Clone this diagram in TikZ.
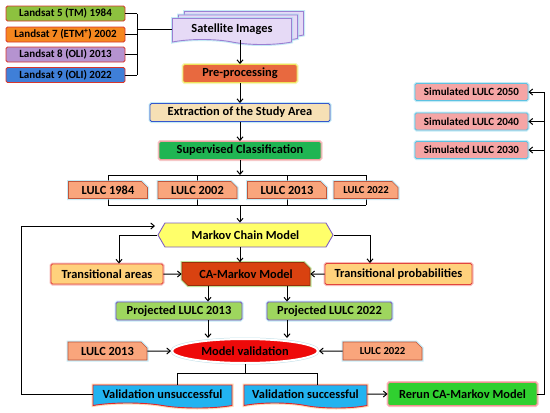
\documentclass[tikz,border=0pt]{standalone}
\usepackage{fontspec}
\setmainfont{Carlito}
\usetikzlibrary{shapes.geometric, shapes.symbols, shapes.misc, arrows.meta, positioning, calc, backgrounds}

\definecolor{lsgreen}{HTML}{8DC13F}
\definecolor{lsorange}{HTML}{F5871F}
\definecolor{lspurple}{HTML}{B593D0}
\definecolor{lsblue}{HTML}{3F7FD8}
\definecolor{lsedge}{HTML}{D8362C}
\definecolor{satfill}{HTML}{E6DAF6}
\definecolor{satedge}{HTML}{9B7FD2}
\definecolor{prefill}{HTML}{E8693F}
\definecolor{preedge}{HTML}{EDE35A}
\definecolor{extfill}{HTML}{F6E0B5}
\definecolor{extedge}{HTML}{3556CC}
\definecolor{supfill}{HTML}{20B553}
\definecolor{supedge}{HTML}{EFA2A2}
\definecolor{lulcfill}{HTML}{F9A57C}
\definecolor{lulcedge}{HTML}{C0553A}
\definecolor{glowcyan}{HTML}{9FDDF0}
\definecolor{mkvfill}{HTML}{FFFF6A}
\definecolor{mkvedge}{HTML}{7E5FC4}
\definecolor{trafill}{HTML}{FFD17C}
\definecolor{traedge}{HTML}{E2453D}
\definecolor{cafill}{HTML}{D94210}
\definecolor{caedge}{HTML}{96CF5B}
\definecolor{projfill}{HTML}{9ED65E}
\definecolor{projedge}{HTML}{7C52C2}
\definecolor{mvfill}{HTML}{EE0A0A}
\definecolor{valfill}{HTML}{22B3F0}
\definecolor{valedge}{HTML}{E3262A}
\definecolor{rerunfill}{HTML}{30D030}
\definecolor{rerunedge}{HTML}{F19090}
\definecolor{simfill}{HTML}{F5A5A5}
\definecolor{simedge}{HTML}{5DC2E2}

\begin{document}
\begin{tikzpicture}[
    x=1pt, y=-1pt,
    font=\fontsize{12.4}{14}\selectfont\bfseries,
    glow/.style={preaction={draw=#1, line width=3pt, draw opacity=0.6}},
    box/.style={
      rectangle, rounded corners=1.5pt, inner sep=0pt,
      fill=#1, line width=0.9pt, align=center
    },
    lsbox/.style={
      box=#1, draw=lsedge, minimum width=119pt, minimum height=15pt,
      font=\fontsize{11}{12}\selectfont\bfseries
    },
    docbox/.style={
      tape, tape bend top=none, tape bend bottom=out and in, tape bend height=5pt,
      inner sep=0pt, fill=#1, line width=0.9pt
    },
    lulc/.style={
      chamfered rectangle, chamfered rectangle corners=north east,
      chamfered rectangle xsep=3pt, chamfered rectangle ysep=3pt,
      inner sep=0pt, fill=lulcfill, draw=lulcedge, line width=0.6pt, glow=glowcyan,
      minimum width=79pt, minimum height=17pt
    },
    arr/.style={-{Straight Barb[length=3.5pt, width=6pt]}, line width=1pt},
    lin/.style={line width=1pt},
  ]
  \useasboundingbox (0,0) rectangle (550,413);

  %% ── Landsat inputs (left column) ──────────────────────────────────────
  \node[lsbox=lsgreen]  (ls5) at (65.5,13.5) {Landsat 5 (TM) 1984};
  \node[lsbox=lsorange] (ls7) at (65.5,34.5) {Landsat 7 (ETM\textsuperscript{+}) 2002};
  \node[lsbox=lspurple] (ls8) at (65.5,54.5) {Landsat 8 (OLI) 2013};
  \node[lsbox=lsblue]   (ls9) at (65.5,75)   {Landsat 9 (OLI) 2022};

  %% ── Spine (top → bottom) ──────────────────────────────────────────────
  %  stacked pages: two blank copies behind the front one
  \node[docbox=satfill, draw=satedge, glow=glowcyan, minimum width=119pt, minimum height=26pt]
      (satb) at (244,22) {};
  \node[docbox=satfill, draw=satedge, glow=glowcyan, minimum width=119pt, minimum height=26pt]
      (sata) at (238,25.5) {};
  \node[docbox=satfill, draw=satedge, glow=glowcyan, minimum width=119pt, minimum height=26pt]
      (sat) at (232,29) {Satellite Images};

  \node[box=prefill,  draw=preedge, glow=preedge!70, minimum width=114pt, minimum height=18pt]
      (pre) at (240,73.5)  {Pre-processing};
  \node[box=extfill,  draw=extedge, glow=glowcyan,   minimum width=180pt, minimum height=18pt]
      (ext) at (240,112.5) {Extraction of the Study Area};
  \node[box=supfill,  draw=supedge, glow=supedge,    minimum width=162pt, minimum height=18pt]
      (sup) at (240,150.5) {Supervised Classification};

  %% ── Classified maps ───────────────────────────────────────────────────
  \node[lulc] (l84) at (108,190)   {LULC 1984};
  \node[lulc] (l02) at (197.5,190) {LULC 2002};
  \node[lulc] (l13) at (287,190)   {LULC 2013};
  \node[lulc, minimum width=64pt, font=\fontsize{10.7}{12}\selectfont\bfseries]
      (l22) at (366,190) {LULC 2022};

  %% ── Modelling block ───────────────────────────────────────────────────
  \node[signal, signal to=west and east, signal pointer angle=120,
        fill=mkvfill, draw=mkvedge, line width=0.9pt, inner sep=0pt,
        minimum width=175pt, minimum height=24pt]
      (mkv) at (245.5,235) {Markov Chain Model};

  \node[box=trafill, draw=traedge, glow=traedge!60, minimum width=112pt, minimum height=20pt]
      (tra) at (107,274) {Transitional areas};
  \node[chamfered rectangle, chamfered rectangle corners={north east, south west},
        chamfered rectangle xsep=3pt, chamfered rectangle ysep=3pt,
        fill=cafill, draw=cafill!70!black, glow=caedge, line width=0.6pt, inner sep=0pt,
        minimum width=128pt, minimum height=23pt]
      (cam) at (246,274) {CA-Markov Model};
  \node[box=trafill, draw=traedge, glow=traedge!60, minimum width=147pt, minimum height=21pt]
      (trp) at (398.5,274) {Transitional probabilities};

  \node[box=projfill, draw=projedge, glow=glowcyan, minimum width=126pt, minimum height=18pt]
      (pj13) at (179,311) {Projected LULC 2013};
  \node[box=projfill, draw=projedge, glow=glowcyan, minimum width=125pt, minimum height=18pt]
      (pj22) at (329.5,311) {Projected LULC 2022};

  %% ── Validation ────────────────────────────────────────────────────────
  \node[lulc, minimum height=18pt] (lv13) at (107.5,351) {LULC 2013};
  \node[ellipse, fill=mvfill, draw=white, line width=2pt, glow=glowcyan!80!gray,
        inner sep=0pt, minimum width=146pt, minimum height=24pt]
      (mval) at (245,351) {Model validation};
  \node[lulc, minimum height=18pt, font=\fontsize{10.7}{12}\selectfont\bfseries]
      (lv22) at (382.5,351) {LULC 2022};

  \node[docbox=valfill, draw=valedge, glow=orange!50, minimum width=139pt, minimum height=23pt]
      (vuns) at (162.5,394) {Validation unsuccessful};
  \node[docbox=valfill, draw=valedge, glow=orange!50, minimum width=123pt, minimum height=23pt]
      (vsuc) at (305.5,394) {Validation successful};
  \node[box=rerunfill, draw=rerunedge, glow=rerunedge, minimum width=149pt, minimum height=23pt]
      (rerun) at (462.5,394) {Rerun CA-Markov Model};

  %% ── Future scenarios (right column) ───────────────────────────────────
  \node[box=simfill, draw=simedge, glow=glowcyan, minimum width=113pt, minimum height=17pt,
        font=\fontsize{11}{12}\selectfont\bfseries] (sim50) at (471.5,92)    {Simulated LULC 2050};
  \node[box=simfill, draw=simedge, glow=glowcyan, minimum width=113pt, minimum height=17pt,
        font=\fontsize{11}{12}\selectfont\bfseries] (sim40) at (471.5,121.5) {Simulated LULC 2040};
  \node[box=simfill, draw=simedge, glow=glowcyan, minimum width=113pt, minimum height=17pt,
        font=\fontsize{11}{12}\selectfont\bfseries] (sim30) at (471.5,150)   {Simulated LULC 2030};

  %% ── Helper coordinates for the bus lines ──────────────────────────────
  \coordinate (bkx)  at (137,0);
  \coordinate (gtop) at (240,175);
  \coordinate (gbot) at (240,205);
  \coordinate (xa)   at (208,0);
  \coordinate (xb)   at (287,0);
  \coordinate (vsplit) at (245,373);
  \coordinate (loopcorner) at (21,226);
  \coordinate (loopend)    at (155,226);
  \coordinate (rx)   at (544,0);

  %% ── Landsat bracket → satellite images ────────────────────────────────
  \foreach \s in {ls5,ls7,ls8,ls9}
    \draw[lin] (\s.east) -- (\s.east -| bkx);
  \draw[lin] (ls5.east -| bkx) -- (ls9.east -| bkx);
  \draw[lin] (sat.west -| bkx) -- (sat.west);

  %% ── Spine arrows ──────────────────────────────────────────────────────
  \draw[arr] (pre.north |- sat.south) -- (pre.north);
  \draw[arr] (pre) -- (ext);
  \draw[arr] (ext) -- (sup);
  \draw[arr] (sup) -- (gtop);

  %  frame that joins the four classified maps (behind the boxes)
  \begin{scope}[on background layer]
    \draw[lin] (l84.center |- gtop) -- (l22.center |- gtop);
    \draw[lin] (l84.center |- gbot) -- (l22.center |- gbot);
    \foreach \l in {l84,l02,l13,l22}
      \draw[lin] (\l.center |- gtop) -- (\l.center |- gbot);
  \end{scope}
  \draw[arr] (gbot) -- (gbot |- mkv.north);

  %% ── Markov chain → CA-Markov ──────────────────────────────────────────
  \draw[arr] (mkv.west) -| ([xshift=12pt]tra.north);
  \draw[arr] (mkv.east) -| ([xshift=-28.5pt]trp.north);
  \draw[arr] (gbot |- mkv.south) -- (gbot |- cam.north);
  \draw[arr] (tra) -- (cam);
  \draw[arr] (trp) -- (cam);

  %% ── Projections → validation ──────────────────────────────────────────
  \draw[arr] (xa |- cam.south)  -- (xa |- pj13.north);
  \draw[arr] (xb |- cam.south)  -- (xb |- pj22.north);
  \draw[arr] (xa |- pj13.south) -- (xa |- mval.north);
  \draw[arr] (xb |- pj22.south) -- (xb |- mval.north);
  \draw[arr] (lv13) -- (mval);
  \draw[arr] (lv22) -- (mval);

  \draw[lin] (mval.south) -- (vsplit);
  \draw[lin] ([xshift=14.5pt]vuns.north) |- ([xshift=11.5pt]vsuc.north |- vsplit)
      -- ([xshift=11.5pt]vsuc.north);

  %% ── Outcomes ──────────────────────────────────────────────────────────
  %  failed: loop back to the Markov chain
  \draw[arr] (vuns.west) -| (loopcorner) -- (loopend);
  %  passed: rerun and simulate the future maps
  \draw[arr] (vsuc) -- (rerun);
  \draw[arr] (rerun.east) -| (rx |- sim50.east) -- (sim50.east);
  \draw[arr] (rx |- sim40.east) -- (sim40.east);
  \draw[arr] (rx |- sim30.east) -- (sim30.east);

\end{tikzpicture}
\end{document}
